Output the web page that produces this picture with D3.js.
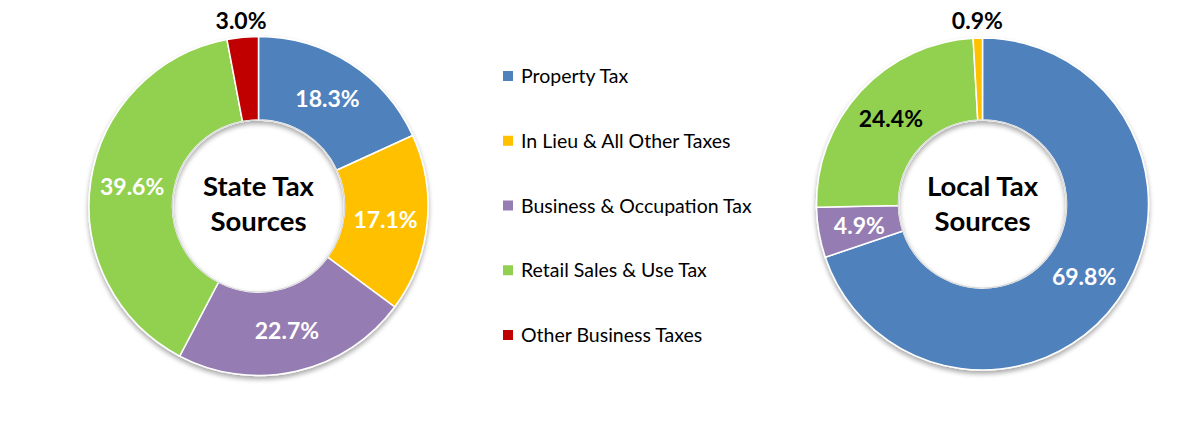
<!DOCTYPE html>
<meta charset="utf-8">
<script src="https://d3js.org/d3.v7.min.js"></script>
<style>
  body { margin: 0; background: #fff; }
  text { font-family: Lato, "Noto Sans", sans-serif; }
</style>
<div id="chart"></div>
<script>

// categories and colours (legend order)
var categories = ["Property Tax", "In Lieu & All Other Taxes", "Business & Occupation Tax", "Retail Sales & Use Tax", "Other Business Taxes"];
var colors = ["#4F81BD", "#FFC000", "#957CB2", "#92D050", "#C00000"];

// state donut, clockwise from 12 o'clock
var stateNames = ["Property Tax", "In Lieu & All Other Taxes", "Business & Occupation Tax", "Retail Sales & Use Tax", "Other Business Taxes"];
var stateValues = [18.3, 17.1, 22.7, 39.6, 3.0];

// local donut, clockwise from 12 o'clock
var localNames = ["Property Tax", "Business & Occupation Tax", "Retail Sales & Use Tax", "In Lieu & All Other Taxes"];
var localValues = [69.8, 4.9, 24.4, 0.9];

var width = 1199, height = 423;

var svg = d3.select("#chart")
  .append("svg")
    .attr("width", width)
    .attr("height", height);

// soft shadow under the rings
var defs = svg.append("defs");
var f = defs.append("filter").attr("id", "shadow")
  .attr("x", "-10%").attr("y", "-10%").attr("width", "120%").attr("height", "125%");
f.append("feGaussianBlur").attr("in", "SourceAlpha").attr("stdDeviation", 2.5);
f.append("feOffset").attr("dx", 0).attr("dy", 3).attr("result", "off");
f.append("feComponentTransfer").append("feFuncA").attr("type", "linear").attr("slope", 0.35);
var m = f.append("feMerge");
m.append("feMergeNode");
m.append("feMergeNode").attr("in", "SourceGraphic");

var color = d3.scaleOrdinal().domain(categories).range(colors);

function donut(cx, cy, outer, inner, names, values, title, darkLabels, outsideLabels) {
  var rows = names.map(function(n, i) { return {name: n, value: values[i]}; });
  var pie = d3.pie().sort(null).value(function(d) { return d.value; });
  var arcs = pie(rows);
  var arc = d3.arc().innerRadius(inner).outerRadius(outer);
  var outArc = d3.arc().innerRadius(outer + 17).outerRadius(outer + 17);

  var g = svg.append("g").attr("transform", "translate(" + cx + "," + cy + ")");

  g.append("g").attr("filter", "url(#shadow)")
    .selectAll("path")
    .data(arcs)
    .enter()
    .append("path")
      .attr("d", arc)
      .attr("fill", function(d) { return color(d.data.name); })
      .attr("stroke", "#fff")
      .attr("stroke-width", 1.5);

  // inner hole edge shadow
  g.append("circle")
    .attr("r", inner)
    .attr("fill", "none")
    .attr("stroke", "#d8d8d8")
    .attr("stroke-width", 1.2);

  g.selectAll(".lbl")
    .data(arcs)
    .enter()
    .append("text")
      .attr("class", "lbl")
      .attr("transform", function(d) {
        var p = outsideLabels.indexOf(d.data.name) >= 0 ? outArc.centroid(d) : arc.centroid(d);
        return "translate(" + p + ")";
      })
      .attr("text-anchor", "middle")
      .attr("dy", "0.36em")
      .attr("font-size", "23px")
      .attr("font-weight", "bold")
      .attr("fill", function(d) { return darkLabels.indexOf(d.data.name) >= 0 ? "#000" : "#fff"; })
      .text(function(d) { return d.data.value.toFixed(1) + "%"; });

  g.selectAll(".ttl")
    .data(title)
    .enter()
    .append("text")
      .attr("class", "ttl")
      .attr("text-anchor", "middle")
      .attr("y", function(d, i) { return (cy === 206 ? -20 : -18) + i * 35; })
      .attr("dy", "0.36em")
      .attr("font-size", "27.5px")
      .attr("font-weight", "bold")
      .attr("fill", "#000")
      .text(function(d) { return d; });
}

donut(258.5, 206, 169.5, 86, stateNames, stateValues, ["State Tax", "Sources"],
      ["Other Business Taxes"], ["Other Business Taxes"]);
donut(982.5, 204, 166, 84, localNames, localValues, ["Local Tax", "Sources"],
      ["Retail Sales & Use Tax", "In Lieu & All Other Taxes"], ["In Lieu & All Other Taxes"]);

// legend
var legendY = d3.scalePoint().domain(categories).range([76, 335]);
var legend = svg.append("g");
var item = legend.selectAll("g")
  .data(categories)
  .enter()
  .append("g")
    .attr("transform", function(d) { return "translate(503," + legendY(d) + ")"; });
item.append("rect")
  .attr("x", 0).attr("y", -5)
  .attr("width", 10).attr("height", 10)
  .attr("fill", function(d) { return color(d); });
item.append("text")
  .attr("x", 18)
  .attr("dy", "0.36em")
  .attr("font-size", "19.5px")
  .attr("fill", "#000")
  .text(function(d) { return d; });

</script>
